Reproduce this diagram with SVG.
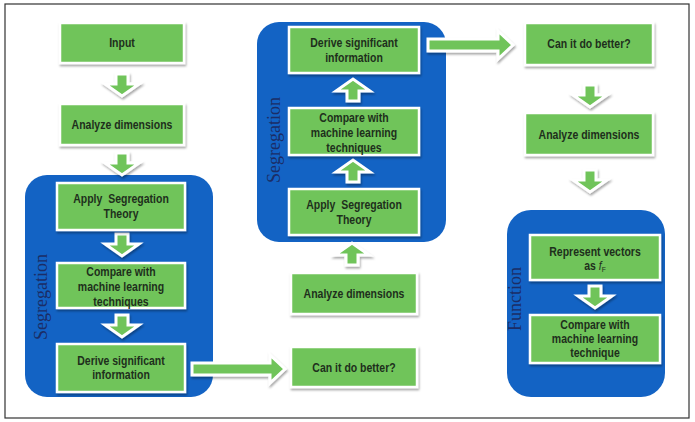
<svg xmlns="http://www.w3.org/2000/svg" width="695" height="422" viewBox="0 0 695 422">
<defs>
<filter id="sh" x="-20%" y="-20%" width="140%" height="150%">
<feDropShadow dx="1" dy="2" stdDeviation="1.2" flood-color="#000" flood-opacity="0.35"/>
</filter>
<path id="down" d="M-6,0 H6 V10 H17 L0,22 L-17,10 H-6 Z"/>
<path id="up" d="M-6,22 H6 V12 H17 L0,0 L-17,12 H-6 Z"/>
</defs>
<style>
.box{fill:#70c45a;stroke:#ffffff;stroke-width:2.5;filter:url(#sh)}
.blue{fill:#1363c4}
.arr{fill:#70c45a;stroke:#ffffff;stroke-width:3;filter:url(#sh)}
.t{font-family:"Liberation Sans","Arial",sans-serif;font-weight:bold;font-size:12.5px;fill:#1e2f1c;text-anchor:middle}
.v{font-family:"Liberation Serif","Times New Roman",serif;font-size:18px;fill:#1b2d66;text-anchor:middle}
</style>
<rect x="0" y="0" width="695" height="422" fill="#ffffff"/>
<rect x="5" y="4" width="684" height="414" fill="#ffffff" stroke="#333333" stroke-width="1.2"/>

<g id="group-seg1">
<rect class="blue" x="25" y="175" width="188" height="222" rx="22"/>
<text class="v" transform="translate(47,297) rotate(-90)">Segregation</text>
</g>
<g id="group-seg2">
<rect class="blue" x="257" y="22" width="189" height="220" rx="22"/>
<text class="v" transform="translate(280,140) rotate(-90)">Segregation</text>
</g>
<g id="group-func">
<rect class="blue" x="507" y="210" width="158" height="187" rx="24"/>
<text class="v" transform="translate(521,299) rotate(-90)">Function</text>
</g>

<g id="connectors">
<use href="#down" class="arr" x="122" y="74"/>
<use href="#down" class="arr" x="122" y="153"/>
<use href="#down" class="arr" x="122" y="234"/>
<use href="#down" class="arr" x="122" y="315"/>
<path class="arr" d="M192,363 H270 V355 L285,369 L270,383 V375 H192 Z"/>
<use href="#up" class="arr" x="352" y="243"/>
<use href="#up" class="arr" x="353" y="160"/>
<use href="#up" class="arr" x="353" y="79"/>
<path class="arr" d="M428,39 H498 V31 L513,45 L498,59 V51 H428 Z"/>
<use href="#down" class="arr" x="590" y="85"/>
<use href="#down" class="arr" x="590" y="170"/>
<use href="#down" class="arr" x="595" y="286"/>
</g>

<g id="n-input"><rect class="box" x="60" y="23" width="124" height="40"/><text class="t" transform="translate(122 0) scale(.84 1)" x="0" y="47.5">Input</text></g>
<g id="n-analyze1"><rect class="box" x="60" y="104" width="124" height="41"/><text class="t" transform="translate(122 0) scale(.84 1)" x="0" y="129">Analyze dimensions</text></g>
<g id="n-apply1"><rect class="box" x="57" y="183" width="128" height="47"/><g transform="translate(121 0) scale(.84 1)"><text class="t" x="0" y="203" xml:space="preserve">Apply  Segregation</text><text class="t" x="0" y="218">Theory</text></g></g>
<g id="n-compare1"><rect class="box" x="57" y="263" width="128" height="45"/><g transform="translate(121 0) scale(.84 1)"><text class="t" x="0" y="276">Compare with</text><text class="t" x="0" y="291">machine learning</text><text class="t" x="0" y="306">techniques</text></g></g>
<g id="n-derive1"><rect class="box" x="57" y="344" width="128" height="48"/><g transform="translate(121 0) scale(.84 1)"><text class="t" x="0" y="365">Derive significant</text><text class="t" x="0" y="379">information</text></g></g>

<g id="n-derive2"><rect class="box" x="289" y="27" width="130" height="46"/><g transform="translate(354 0) scale(.84 1)"><text class="t" x="0" y="47">Derive significant</text><text class="t" x="0" y="62">information</text></g></g>
<g id="n-compare2"><rect class="box" x="289" y="108" width="130" height="47"/><g transform="translate(354 0) scale(.84 1)"><text class="t" x="0" y="122">Compare with</text><text class="t" x="0" y="137">machine learning</text><text class="t" x="0" y="152">techniques</text></g></g>
<g id="n-apply2"><rect class="box" x="289" y="189" width="130" height="46"/><g transform="translate(354 0) scale(.84 1)"><text class="t" x="0" y="209" xml:space="preserve">Apply  Segregation</text><text class="t" x="0" y="224">Theory</text></g></g>
<g id="n-analyze2"><rect class="box" x="291" y="273" width="126" height="41"/><text class="t" transform="translate(354 0) scale(.84 1)" x="0" y="298">Analyze dimensions</text></g>
<g id="n-can2"><rect class="box" x="291" y="347" width="126" height="40"/><text class="t" transform="translate(354 0) scale(.84 1)" x="0" y="372">Can it do better?</text></g>

<g id="n-can3"><rect class="box" x="525" y="23" width="128" height="42"/><text class="t" transform="translate(589 0) scale(.84 1)" x="0" y="48">Can it do better?</text></g>
<g id="n-analyze3"><rect class="box" x="525" y="113" width="128" height="42"/><text class="t" transform="translate(589 0) scale(.84 1)" x="0" y="139">Analyze dimensions</text></g>
<g id="n-represent"><rect class="box" x="530" y="235" width="130" height="45"/><g transform="translate(595 0) scale(.84 1)"><text class="t" x="0" y="256">Represent vectors</text><text class="t" x="0" y="270">as <tspan font-style="italic" font-weight="normal">f</tspan><tspan font-size="8" font-weight="normal" dy="2">F</tspan></text></g></g>
<g id="n-compare3"><rect class="box" x="530" y="315" width="130" height="48"/><g transform="translate(595 0) scale(.84 1)"><text class="t" x="0" y="329">Compare with</text><text class="t" x="0" y="343">machine learning</text><text class="t" x="0" y="357">technique</text></g></g>
</svg>
